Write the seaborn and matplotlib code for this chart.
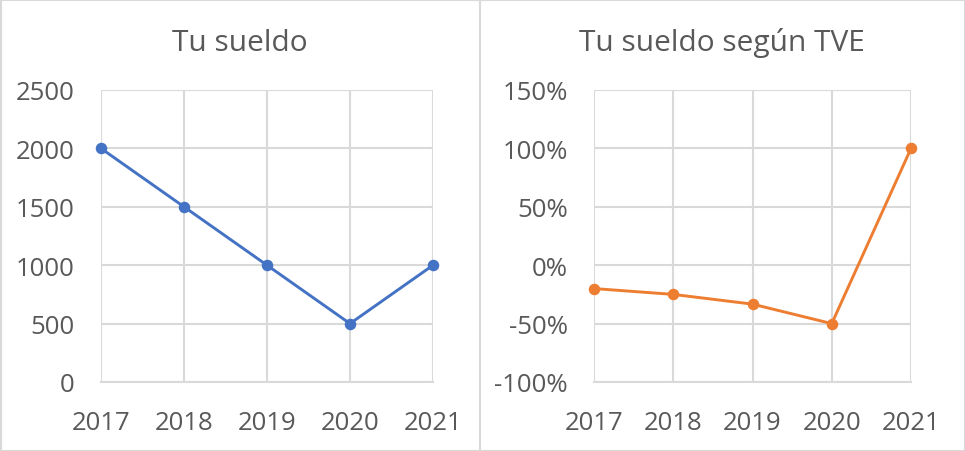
import matplotlib
matplotlib.use("Agg")
import matplotlib.pyplot as plt
import seaborn as sns
import pandas as pd
from matplotlib.lines import Line2D
from matplotlib.patches import Rectangle

years = [2017, 2018, 2019, 2020, 2021]
sueldo = [2000, 1500, 1000, 500, 1000]
sueldo_tve = [-0.20, -0.25, -1/3, -0.50, 1.00]

left_ticks = [0, 500, 1000, 1500, 2000, 2500]
left_labels = ["0", "500", "1000", "1500", "2000", "2500"]
right_ticks = [-1.0, -0.5, 0.0, 0.5, 1.0, 1.5]
right_labels = ["-100%", "-50%", "0%", "50%", "100%", "150%"]

title_left = "Tu sueldo"
title_right = "Tu sueldo según TVE"

sns.set_theme(style="white")
plt.rcParams["font.family"] = ["Open Sans", "DejaVu Sans"]

TXT = "#595959"
GRID = "#d9d9d9"
BLUE = "#4472C4"
ORANGE = "#ED7D31"

W, H = 965, 452
fig = plt.figure(figsize=(W / 100, H / 100), dpi=100)

def px_axes(x0, x1, ytop, ybot):
    return fig.add_axes([x0 / W, (H - ybot) / H, (x1 - x0) / W, (ybot - ytop) / H])

axL = px_axes(101, 433, 91, 383)
axR = px_axes(594, 911, 91, 383)

dfL = pd.DataFrame({"year": years, "value": sueldo})
dfR = pd.DataFrame({"year": years, "value": sueldo_tve})

sns.lineplot(data=dfL, x="year", y="value", ax=axL, color=BLUE, marker="o",
             markersize=8.3, linewidth=2.1, markeredgewidth=0, clip_on=False, zorder=5)
sns.lineplot(data=dfR, x="year", y="value", ax=axR, color=ORANGE, marker="o",
             markersize=8.3, linewidth=2.1, markeredgewidth=0, clip_on=False, zorder=5)

for ax, ticks, labels in [(axL, left_ticks, left_labels), (axR, right_ticks, right_labels)]:
    ax.set_xlim(years[0], years[-1])
    ax.set_ylim(ticks[0], ticks[-1])
    ax.set_xticks(years)
    ax.set_xticklabels([str(y) for y in years])
    ax.set_yticks(ticks)
    ax.set_yticklabels(labels)
    ax.set_xlabel("")
    ax.set_ylabel("")
    ax.grid(True, color=GRID, linewidth=1.5)
    ax.set_axisbelow(True)
    for s in ["top", "right", "left"]:
        ax.spines[s].set_visible(False)
    ax.spines["bottom"].set_color(GRID)
    ax.spines["bottom"].set_linewidth(1.5)
    ax.tick_params(axis="both", length=0, labelsize=18.5, labelcolor=TXT)
    ax.tick_params(axis="y", pad=19)
    ax.tick_params(axis="x", pad=20)
    ax.set_facecolor("white")

fig.text(240 / W, 1 - 51 / H, title_left, ha="center", va="baseline", fontsize=21.5, color=TXT)
fig.text(722 / W, 1 - 51 / H, title_right, ha="center", va="baseline", fontsize=21.5, color=TXT)

# chart area borders
fig.patches.append(Rectangle((0.5 / W, 0.5 / H), (W - 1) / W, (H - 1) / H, transform=fig.transFigure,
                             fill=False, edgecolor=GRID, linewidth=1.5))
fig.lines.append(Line2D([480 / W, 480 / W], [0, 1], transform=fig.transFigure, color=GRID, linewidth=1.5))

fig.savefig("out.png", dpi=100, facecolor="white")
